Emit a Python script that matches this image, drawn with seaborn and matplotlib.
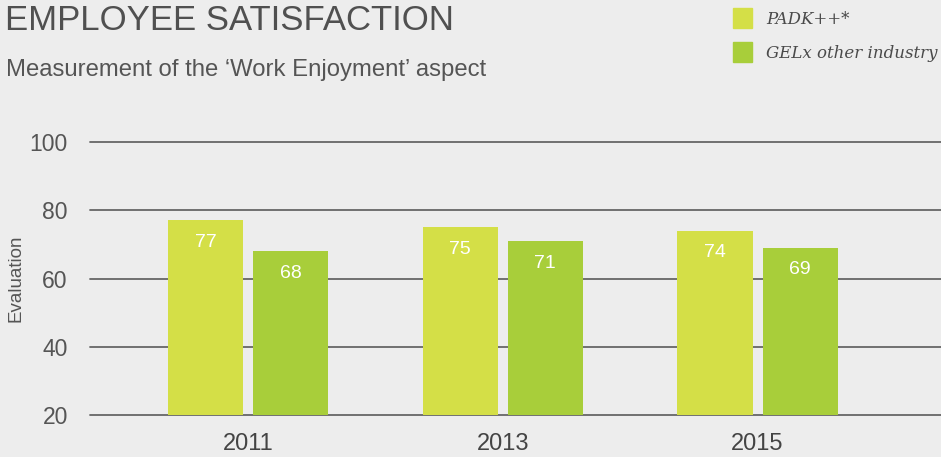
import matplotlib
matplotlib.use("Agg")
import matplotlib.pyplot as plt
import seaborn as sns
import pandas as pd
from matplotlib.patches import Rectangle

years = ["2011", "2013", "2015"]
series_names = ["PADK++*", "GELx other industry"]
padk = [77, 75, 74]
gelx = [68, 71, 69]
colors = ["#D4DF47", "#A8CE3A"]
yticks = [20, 40, 60, 80, 100]

df = pd.DataFrame({
    "Year": years * 2,
    "Series": [series_names[0]] * 3 + [series_names[1]] * 3,
    "Evaluation": padk + gelx,
})

sns.set_theme(style="white")
plt.rcParams["font.family"] = ["Liberation Sans", "DejaVu Sans"]
bg = "#EDEDED"
W, H = 941, 457
fig = plt.figure(figsize=(W / 100, H / 100), dpi=100, facecolor=bg)
ax = fig.add_axes([90 / W, (457 - 415) / H, 851 / W, (415 - 142) / H])
ax.set_facecolor(bg)

sns.barplot(data=df, x="Year", y="Evaluation", hue="Series", palette=colors,
            width=0.668, gap=0.117, ax=ax, legend=False, saturation=1,
            linewidth=0, edgecolor="none")

ax.set_ylim(20, 100)
ax.set_xlim(-0.62, 2.72)
ax.set_yticks(yticks)
ax.set_yticklabels([str(t) for t in yticks])
for t in yticks:
    ax.axhline(t, color="#666666", lw=1.3, zorder=0, clip_on=False)
for s in ax.spines.values():
    s.set_visible(False)
ax.tick_params(axis="both", length=0, labelcolor="#555555")
ax.tick_params(axis="y", pad=16, labelsize=16.5)
ax.tick_params(axis="x", pad=13, labelsize=17, labelcolor="#444444")
ax.set_xlabel("")
ax.set_ylabel("")
fig.text(16 / W, 1 - 278 / H, "Evaluation", rotation=90, fontsize=13.5,
         color="#555555", va="center", ha="center")

for cont in ax.containers:
    ax.bar_label(cont, padding=-22, color="white", fontsize=14)

fig.text(5 / W, 1 - 21 / H, "EMPLOYEE SATISFACTION", fontsize=25, color="#505050",
         va="center", ha="left", family="Liberation Sans")
fig.text(6 / W, 1 - 70 / H, "Measurement of the \u2018Work Enjoyment\u2019 aspect",
         fontsize=17.2, color="#555555", va="center", ha="left")

for i, (name, c) in enumerate(zip(series_names, colors)):
    yc = 18 + i * 34
    fig.patches.append(Rectangle((733 / W, 1 - (yc + 10) / H), 19 / W, 20 / H,
                                 transform=fig.transFigure, color=c))
    fig.text(766 / W, 1 - (yc + 1.5) / H, name, fontsize=12, style="italic",
             family="DejaVu Serif", color="#4A4A4A", va="center", ha="left")

fig.savefig("out.png", dpi=100, facecolor=bg)
